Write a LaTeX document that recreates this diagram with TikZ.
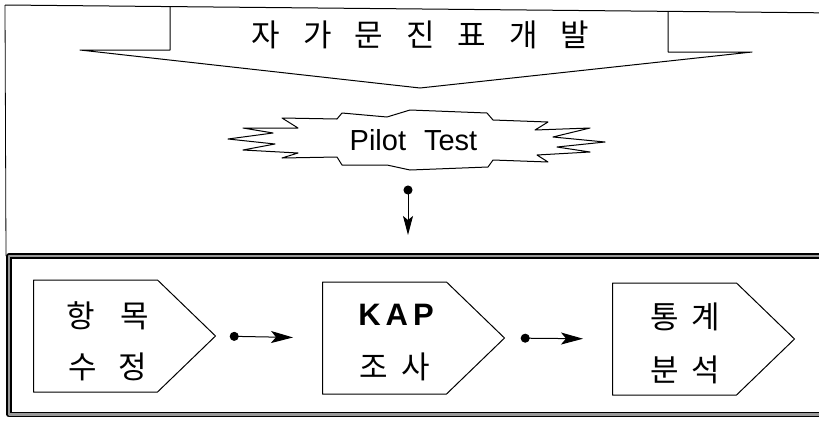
\documentclass[tikz,border=0pt]{standalone}
\usepackage{fontspec}
\setmainfont{Liberation Sans}
\newfontfamily\kr{Noto Sans CJK KR}
\usetikzlibrary{shapes.symbols,arrows.meta}
\begin{document}
\begin{tikzpicture}[x=1pt,y=-1pt,line join=round,
  thin line/.style={line width=1pt},
  tag/.style={draw,line width=1pt,signal,signal to=east,signal from=nowhere,
    signal pointer angle=88,minimum width=182pt,minimum height=112pt,
    inner sep=0pt,anchor=west},
  kor/.style={font=\kr\fontsize{31}{34}\selectfont,inner sep=0pt},
  flow/.style={line width=1pt,{Circle[length=9pt]}-{Stealth[length=22pt,width=12pt,inset=5pt]}},
  vflow/.style={line width=1pt,{Circle[length=9pt]}-{Stealth[length=19pt,width=10pt,inset=4pt]}},
]
\useasboundingbox (0,0) rectangle (819,421);

% outer thin frame (top and left)
\draw[thin line] (5,5) -- (840,13);
\draw[line width=0.8pt] (5,5) -- (6,256);

% banner arrow
\draw[thin line] (170,6.6) -- (170,50) -- (80,50) -- (420,88) -- (752,52) -- (668,52) -- (668,11.5);
\node[kor] (title) at (420.5,35) {자\hspace{23pt}가\hspace{23pt}문\hspace{23pt}진\hspace{23pt}표\hspace{23pt}개\hspace{23pt}발};

% starburst
\draw[thin line] (282,118) -- (337,119) -- (342,113) -- (387,117) -- (410,110)
  -- (487,113) -- (493,120) -- (548,122) -- (535,130) -- (590,128) -- (553,137)
  -- (605,142) -- (557,147) -- (590,152) -- (537,155) -- (548,162) -- (493,160)
  -- (488,167) -- (410,170) -- (387,165) -- (342,165) -- (337,157) -- (282,158)
  -- (298,153) -- (243,150) -- (275,144) -- (228,139) -- (273,133) -- (243,128)
  -- (298,128) -- cycle;
\node[font=\fontsize{29}{32}\selectfont,inner sep=0pt] (pilot) at (413.5,140) {Pilot\hspace{18pt}Test};
\coordinate (sb) at (408,170);
\coordinate (ft) at (408,253);
\draw[vflow,shorten <=15.5pt,shorten >=18pt] (sb) -- (ft);

% thick lower frame
\draw[line width=1.5pt,double=black!40,double distance=2.5pt] (9,256) rectangle (850,414.5);

% tags
\node[tag] (b1) at (33,336) {};
\node[tag] (b2) at (322,338) {};
\node[tag] (b3) at (612,339) {};

\node[kor] (t1a) at (108,316) {항\hspace{25pt}목};
\node[kor] (t1b) at (108,367) {수\hspace{22pt}정};
\node[font=\bfseries\fontsize{31}{34}\selectfont,inner sep=0pt] (t2a) at (396,315) {K\hspace{5pt}A\hspace{5pt}P};
\node[kor] (t2b) at (395,367) {조\hspace{13pt}사};
\node[kor] (t3a) at (685,317) {통\hspace{12pt}계};
\node[kor] (t3b) at (685,370) {분\hspace{12pt}석};

\draw[flow,shorten <=13.5pt,shorten >=29pt] (b1.east) -- (b2.west);
\draw[flow,shorten <=15.5pt,shorten >=29pt] (b2.east) -- (b3.west);
\end{tikzpicture}
\end{document}
